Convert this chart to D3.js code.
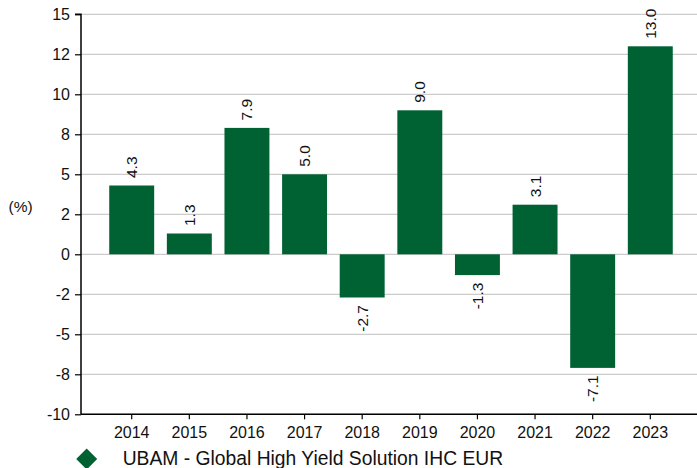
<!DOCTYPE html>
<html>
<head>
<meta charset="utf-8">
<script src="https://cdn.jsdelivr.net/npm/d3@7"></script>
<style>
  html, body { margin: 0; padding: 0; background: #fff; }
  svg { display: block; font-family: Arial, "Liberation Sans", sans-serif; }
</style>
</head>
<body>
<svg id="chart" width="697" height="468"></svg>
<script>
const years = ["2014","2015","2016","2017","2018","2019","2020","2021","2022","2023"];
const returns = [4.3, 1.3, 7.9, 5.0, -2.7, 9.0, -1.3, 3.1, -7.1, 13.0];
const yTickValues = [15, 12.5, 10, 7.5, 5, 2.5, 0, -2.5, -5, -7.5, -10];
const yTickLabels = ["15","12","10","8","5","2","0","-2","-5","-8","-10"];
const seriesName = "UBAM - Global High Yield Solution IHC EUR";
const unitLabel = "(%)";

const svg = d3.select("#chart");
const green = "#006233";
const gridColor = "#cccccc";
const FONT = "Arial, 'Liberation Sans', sans-serif";

const mLeft = 81, mTop = 14.3, mBottom = 414.3, mRight = 697;

const y = d3.scaleLinear().domain([-10, 15]).range([mBottom, mTop]);
const x = d3.scaleBand().domain(years).range([mLeft, 701]).paddingInner(0.22).paddingOuter(0.49);

// gridlines
svg.append("g").selectAll("line").data(yTickValues).join("line")
  .attr("x1", mLeft).attr("x2", mRight)
  .attr("y1", d => y(d)).attr("y2", d => y(d))
  .attr("stroke", gridColor).attr("stroke-width", 1.2);

// bars
svg.append("g").selectAll("rect").data(returns).join("rect")
  .attr("x", (d, i) => x(years[i]))
  .attr("width", x.bandwidth())
  .attr("y", d => y(Math.max(0, d)))
  .attr("height", d => Math.abs(y(d) - y(0)))
  .attr("fill", green);

// value labels
svg.append("g").selectAll("text").data(returns).join("text")
  .attr("transform", (d, i) => {
    const cx = x(years[i]) + x.bandwidth() / 2 + 5.5;
    const cy = d >= 0 ? y(d) - 7.5 : y(d) + 7.5;
    return `translate(${cx},${cy}) rotate(-90)`;
  })
  .attr("text-anchor", d => d >= 0 ? "start" : "end")
  .attr("font-size", 15.5)
  .attr("font-family", FONT)
  .attr("fill", "#111")
  .text(d => d.toFixed(1));

// y axis
const yAxis = d3.axisLeft(y).tickValues(yTickValues)
  .tickFormat((d, i) => yTickLabels[i]).tickSize(6).tickPadding(5);
const gy = svg.append("g").attr("transform", `translate(${mLeft},0)`).call(yAxis);
gy.select(".domain").attr("stroke", "#000").attr("stroke-width", 1.5).attr("d", `M-6,${mTop}H0V${mBottom}`);
gy.selectAll(".tick line").attr("stroke", "#000").attr("stroke-width", 1.2);
gy.selectAll(".tick text").attr("font-size", 16).attr("fill", "#111").attr("font-family", FONT);

// x axis
const xAxis = d3.axisBottom(x).tickSize(5).tickPadding(7);
const gx = svg.append("g").attr("transform", `translate(0,${mBottom})`).call(xAxis);
gx.select(".domain").attr("stroke", "#000").attr("stroke-width", 1.5).attr("d", `M${mLeft},0H${mRight}`);
gx.selectAll(".tick line").attr("stroke", "#000").attr("stroke-width", 1.2);
gx.selectAll(".tick text").attr("font-size", 16).attr("fill", "#111").attr("font-family", FONT);

// unit label
svg.append("text").attr("x", 8.5).attr("y", 211.5).attr("font-size", 15.5)
  .attr("font-family", FONT).attr("fill", "#111").text(unitLabel);

// legend
const lg = svg.append("g").attr("transform", "translate(86.7,459)");
lg.append("path").attr("d", d3.symbol().type(d3.symbolDiamond2).size(281)).attr("fill", green);
lg.append("text").attr("x", 36).attr("y", 6).attr("font-size", 19.3)
  .attr("font-family", FONT).attr("fill", "#111").text(seriesName);
</script>
</body>
</html>
